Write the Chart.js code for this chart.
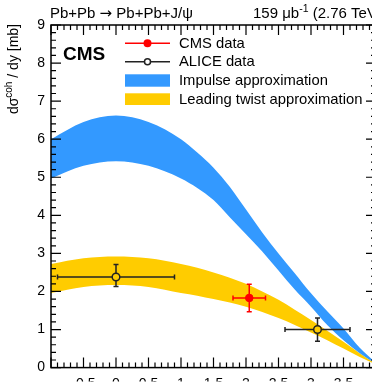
<!DOCTYPE html>
<html><head><meta charset="utf-8">
<script src="https://cdn.jsdelivr.net/npm/chart.js@4"></script>
<style>
html,body{margin:0;padding:0;overflow:hidden;background:#fff}
#wrap{width:384px;height:382px;position:relative}
</style>
</head><body><div id="wrap"><canvas id="c"></canvas></div>
<script>
// ---- data ----
const bandX        = [-1, -0.5, 0, 0.5, 1, 1.25, 1.5, 1.75, 2, 2.25, 2.5, 2.75, 3, 3.25, 3.5, 3.75, 4];
const impulseLow   = [4.97, 5.30, 5.42, 5.30, 4.97, 4.72, 4.40, 3.95, 3.50, 3.05, 2.55, 2.05, 1.60, 1.12, 0.72, 0.38, 0.10];
const impulseHigh  = [6.00, 6.45, 6.62, 6.45, 6.00, 5.65, 5.25, 4.75, 4.15, 3.55, 3.00, 2.48, 1.95, 1.48, 1.03, 0.52, 0.12];
const twistLow     = [1.96, 2.12, 2.17, 2.12, 1.96, 1.89, 1.80, 1.71, 1.60, 1.46, 1.30, 1.12, 0.92, 0.72, 0.50, 0.28, 0.08];
const twistHigh    = [2.72, 2.87, 2.92, 2.87, 2.72, 2.62, 2.50, 2.36, 2.20, 2.00, 1.78, 1.52, 1.25, 0.97, 0.68, 0.38, 0.10];

const cmsX = [2.05], cmsY = [1.83], cmsXErr = [0.25], cmsYErrUp = [0.36], cmsYErrDown = [0.36];
const aliceX = [0, 3.1], aliceY = [2.38, 1.0], aliceXErr = [0.9, 0.5], aliceYErrUp = [0.33, 0.30], aliceYErrDown = [0.25, 0.31];

const xTickLabels = {"-0.5":"-0.5","0":"0","0.5":"0.5","1":"1","1.5":"1.5","2":"2","2.5":"2.5","3":"3","3.5":"3.5"};
const yTickValues = [0,1,2,3,4,5,6,7,8,9];
const legendLabels = ["CMS data", "ALICE data", "Impulse approximation", "Leading twist approximation"];
const titleLeft = ["Pb+Pb ", "\u2192", " Pb+Pb+J/\u03c8"];
const lumiText = ["159 \u03bcb", "-1", " (2.76 TeV)"];
const yTitle = ["d\u03c3", "coh", " / dy [mb]"];

const BLUE = '#3399ff', YELLOW = '#ffcc00', RED = '#ff0000', DARK = '#222222';
const FONT = '"Liberation Sans", Arial, Helvetica, sans-serif';

const pts = (xs, ys) => xs.map((x, i) => ({x, y: ys[i]}));

function drawErrBars(ctx, xs, sc, ys, xe, yu, yd, color, r) {
  ctx.save();
  ctx.strokeStyle = color; ctx.lineWidth = 1.5;
  const cap = 2.5;
  for (let i = 0; i < xs.length; i++) {
    const px = sc.x.getPixelForValue(xs[i]);
    const py = sc.y.getPixelForValue(ys[i]);
    const xl = sc.x.getPixelForValue(xs[i] - xe[i]);
    const xr = sc.x.getPixelForValue(xs[i] + xe[i]);
    const yt = sc.y.getPixelForValue(ys[i] + yu[i]);
    const yb = sc.y.getPixelForValue(ys[i] - yd[i]);
    ctx.beginPath();
    ctx.moveTo(xl, py); ctx.lineTo(px - r, py);
    ctx.moveTo(px + r, py); ctx.lineTo(xr, py);
    ctx.moveTo(px, yt); ctx.lineTo(px, py - r);
    ctx.moveTo(px, py + r); ctx.lineTo(px, yb);
    ctx.moveTo(xl, py - cap); ctx.lineTo(xl, py + cap);
    ctx.moveTo(xr, py - cap); ctx.lineTo(xr, py + cap);
    ctx.moveTo(px - cap, yt); ctx.lineTo(px + cap, yt);
    ctx.moveTo(px - cap, yb); ctx.lineTo(px + cap, yb);
    ctx.stroke();
  }
  ctx.restore();
}

const decor = {
  id: 'decor',
  beforeDatasetDraw(chart, args) {
    const ctx = chart.ctx, sc = chart.scales;
    if (args.index === 4) drawErrBars(ctx, aliceX, sc, aliceY, aliceXErr, aliceYErrUp, aliceYErrDown, DARK, 3.8);
    if (args.index === 5) drawErrBars(ctx, cmsX, sc, cmsY, cmsXErr, cmsYErrUp, cmsYErrDown, RED, 2);
  },
  afterDraw(chart) {
    const ctx = chart.ctx;
    const {left, right, top, bottom} = chart.chartArea;
    const sx = chart.scales.x, sy = chart.scales.y;
    ctx.save();
    ctx.strokeStyle = '#000'; ctx.lineWidth = 1.5;
    ctx.strokeRect(left, top, right - left, bottom - top);
    ctx.lineWidth = 1.2;
    ctx.beginPath();
    for (let i = 0; i <= 50; i++) {
      const v = -1 + i * 0.1;
      const px = sx.getPixelForValue(v);
      const L = (i % 5 === 0) ? 10 : 5;
      ctx.moveTo(px, bottom); ctx.lineTo(px, bottom - L);
      ctx.moveTo(px, top); ctx.lineTo(px, top + L);
    }
    for (let i = 0; i <= 45; i++) {
      const v = i * 0.2;
      const py = sy.getPixelForValue(v);
      const L = (i % 5 === 0) ? 10 : 5;
      ctx.moveTo(left, py); ctx.lineTo(left + L, py);
      ctx.moveTo(right, py); ctx.lineTo(right - L, py);
    }
    ctx.stroke();

    // top texts
    ctx.fillStyle = '#000';
    ctx.textBaseline = 'alphabetic';
    ctx.textAlign = 'left';
    let tx = 50;
    ctx.font = '15px ' + FONT;
    ctx.fillText(titleLeft[0], tx, 18); tx += ctx.measureText(titleLeft[0]).width;
    ctx.font = '15px "DejaVu Sans", sans-serif';
    ctx.fillText(titleLeft[1], tx, 18); tx += ctx.measureText(titleLeft[1]).width;
    ctx.font = '15px ' + FONT;
    ctx.fillText(titleLeft[2], tx, 18);
    tx = 253;
    ctx.fillText(lumiText[0], tx, 18); tx += ctx.measureText(lumiText[0]).width;
    ctx.font = '10.5px ' + FONT;
    ctx.fillText(lumiText[1], tx, 12); tx += ctx.measureText(lumiText[1]).width;
    ctx.font = '15px ' + FONT;
    ctx.fillText(lumiText[2], tx, 18);

    // y title (rotated)
    ctx.save();
    ctx.translate(17.5, 24);
    ctx.rotate(-Math.PI / 2);
    ctx.font = '14px ' + FONT; const w1 = ctx.measureText(yTitle[0]).width;
    ctx.font = '10px ' + FONT; const w2 = ctx.measureText(yTitle[1]).width;
    ctx.font = '14px ' + FONT; const w3 = ctx.measureText(yTitle[2]).width;
    let u = -(w1 + w2 + w3);
    ctx.font = '14px ' + FONT; ctx.fillText(yTitle[0], u, 0); u += w1;
    ctx.font = '10px ' + FONT; ctx.fillText(yTitle[1], u, -6); u += w2;
    ctx.font = '14px ' + FONT; ctx.fillText(yTitle[2], u, 0);
    ctx.restore();

    // CMS label
    ctx.font = 'bold 19px ' + FONT;
    ctx.fillText('CMS', 63, 60);

    // legend
    const lx0 = 125, lx1 = 170, tX = 179;
    ctx.strokeStyle = RED; ctx.lineWidth = 1.5;
    ctx.beginPath(); ctx.moveTo(lx0, 43.3); ctx.lineTo(lx1, 43.3); ctx.stroke();
    ctx.fillStyle = RED; ctx.beginPath(); ctx.arc(147.5, 43.3, 4, 0, Math.PI * 2); ctx.fill();
    ctx.strokeStyle = DARK; ctx.lineWidth = 1.5;
    ctx.beginPath(); ctx.moveTo(lx0, 61.7); ctx.lineTo(144.5, 61.7); ctx.moveTo(150.5, 61.7); ctx.lineTo(lx1, 61.7); ctx.stroke();
    ctx.beginPath(); ctx.arc(147.5, 61.7, 3, 0, Math.PI * 2); ctx.stroke();
    ctx.fillStyle = BLUE; ctx.fillRect(lx0, 74.3, lx1 - lx0, 12.4);
    ctx.fillStyle = YELLOW; ctx.fillRect(lx0, 93.3, lx1 - lx0, 11.7);
    ctx.fillStyle = '#000';
    ctx.font = '14.8px ' + FONT;
    ctx.fillText(legendLabels[0], tX, 48.3);
    ctx.fillText(legendLabels[1], tX, 66);
    ctx.fillText(legendLabels[2], tX, 85);
    ctx.fillText(legendLabels[3], tX, 104.3);
    ctx.restore();
  }
};

const none = 'rgba(0,0,0,0)';
new Chart(document.getElementById('c'), {
  type: 'line',
  data: {
    datasets: [
      {data: pts(bandX, twistLow), borderColor: none, borderWidth: 1, pointRadius: 0, fill: false, cubicInterpolationMode: 'monotone', order: 6},
      {data: pts(bandX, twistHigh), borderColor: none, borderWidth: 1, pointRadius: 0, fill: '-1', backgroundColor: YELLOW, cubicInterpolationMode: 'monotone', order: 5},
      {data: pts(bandX, impulseLow), borderColor: none, borderWidth: 1, pointRadius: 0, fill: false, cubicInterpolationMode: 'monotone', order: 4},
      {data: pts(bandX, impulseHigh), borderColor: none, borderWidth: 1, pointRadius: 0, fill: '-1', backgroundColor: BLUE, cubicInterpolationMode: 'monotone', order: 3},
      {type: 'scatter', data: pts(aliceX, aliceY), pointRadius: 3.8, pointBorderWidth: 1.5, pointBorderColor: DARK, pointBackgroundColor: none, borderColor: DARK, backgroundColor: none, showLine: false, order: 2},
      {type: 'scatter', data: pts(cmsX, cmsY), pointRadius: 3.8, pointBorderWidth: 1, pointBorderColor: RED, pointBackgroundColor: RED, borderColor: RED, backgroundColor: RED, showLine: false, order: 1}
    ]
  },
  options: {
    responsive: true, maintainAspectRatio: false, animation: false, events: [],
    devicePixelRatio: 1,
    layout: {padding: {top: 25, right: 4, left: 0, bottom: 0}},
    plugins: {legend: {display: false}, tooltip: {enabled: false}, title: {display: false}},
    scales: {
      x: {
        type: 'linear', min: -1, max: 4,
        grid: {display: false, drawTicks: false}, border: {display: false},
        ticks: {stepSize: 0.5, padding: 8, autoSkip: false, maxRotation: 0, color: '#000',
          font: {family: FONT, size: 14},
          callback: (v) => xTickLabels[String(Math.round(v * 10) / 10)] ?? ''},
        afterFit: (s) => { s.height = 14; }
      },
      y: {
        type: 'linear', min: 0, max: 9,
        grid: {display: false, drawTicks: false}, border: {display: false},
        ticks: {stepSize: 1, padding: 6, color: '#000', font: {family: FONT, size: 14},
          callback: (v) => yTickValues.includes(v) ? String(v) : ''},
        afterFit: (s) => { s.width = 51; }
      }
    }
  },
  plugins: [decor]
});
</script>
</body></html>
